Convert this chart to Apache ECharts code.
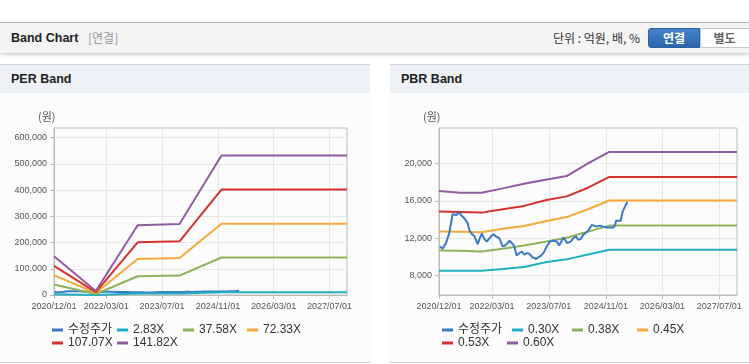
<!DOCTYPE html>
<html><head><meta charset="utf-8">
<script src="https://cdn.jsdelivr.net/npm/echarts@6/dist/echarts.min.js"></script>
<style>
html,body{margin:0;padding:0;width:749px;height:364px;overflow:hidden;background:#fff;font-family:"Liberation Sans","Noto Sans CJK KR",sans-serif;}
.abs{position:absolute;}
#hline{left:0;top:22px;width:749px;height:1px;background:#b8b8b8;}
#hdr{left:0;top:23px;width:749px;height:30px;background:#f4f4f4;box-shadow:0 2px 3px rgba(0,0,0,0.18);}
#ttl{left:11px;top:23px;line-height:30px;font-size:12.5px;font-weight:bold;color:#222;}
#ttl2{left:88px;top:23px;line-height:30px;font-size:12px;color:#999;font-family:"Noto Sans CJK KR",sans-serif;}
#unit{left:553px;top:23px;line-height:30px;font-size:12px;color:#333;font-family:"Noto Sans CJK KR",sans-serif;}
#b1{left:648px;top:28px;width:50px;height:18px;line-height:18px;text-align:center;color:#fff;font-weight:bold;font-size:12px;background:linear-gradient(#4283c9,#2b66ac);border:1px solid #2a5f9e;border-radius:3px 0 0 3px;font-family:"Noto Sans CJK KR",sans-serif;}
#b2{left:700px;top:28px;width:52px;height:18px;line-height:18px;text-align:center;color:#666;font-weight:bold;font-size:12px;background:#fff;border:1px solid #c8c8c8;font-family:"Noto Sans CJK KR",sans-serif;text-indent:-5px;}
.panel{top:64px;height:297px;border-top:1px solid #d2d2d2;border-bottom:1px solid #d2d2d2;background:#fcfcfc;}
.ph{left:0;top:0;right:0;height:28px;background:#eef2f7;}
.pt{left:11px;top:0;line-height:28px;font-size:12.5px;font-weight:bold;color:#222;}
#chart{left:0;top:0;width:749px;height:364px;}
</style></head>
<body>
<div id="hline" class="abs"></div>
<div id="hdr" class="abs"></div>
<div id="ttl" class="abs">Band Chart</div>
<div id="ttl2" class="abs">[연결]</div>
<div id="unit" class="abs">단위 : 억원, 배, %</div>
<div id="b1" class="abs">연결</div>
<div id="b2" class="abs">별도</div>
<div class="abs panel" style="left:0;width:370px;"><div class="abs ph"></div><div class="abs pt">PER Band</div></div>
<div class="abs panel" style="left:390px;width:359px;"><div class="abs ph"></div><div class="abs pt">PBR Band</div></div>
<div id="chart" class="abs"></div>
<script>
// ---- data ----
const xMin = '2020/12/01';
const xMax = '2027/12/01';
const xTickLabels = ['2020/12/01','2022/03/01','2023/07/01','2024/11/01','2026/03/01','2027/07/01'];
const perYTicks = [0,100000,200000,300000,400000,500000,600000];
const pbrYTicks = [8000,12000,16000,20000];

const perNames = ['2.83X','37.58X','72.33X','107.07X','141.82X'];
const perDates = ['2020/12/01','2021/12/01','2022/12/01','2023/12/01','2024/12/01','2027/12/01'];
const per283  = [3000, 300, 5400, 5600, 10700, 10700];
const per3758 = [40000, 3900, 71500, 74000, 143000, 143000];
const per7233 = [76000, 7500, 137000, 141000, 272000, 272000];
const per10707 = [111000, 11000, 201000, 205000, 402000, 402000];
const per14182 = [148000, 15000, 266000, 271000, 532000, 532000];

const pbrNames = ['0.30X','0.38X','0.45X','0.53X','0.60X'];
const pbrDates = ['2020/12/01','2021/06/01','2021/12/01','2022/06/01','2022/12/01','2023/06/01','2023/12/01','2024/06/01','2024/12/01','2027/12/01'];
const pbr030 = [8500, 8500, 8500, 8680, 8900, 9400, 9720, 10240, 10740, 10740];
const pbr038 = [10670, 10640, 10560, 10850, 11200, 11600, 12030, 12690, 13340, 13340];
const pbr045 = [12700, 12680, 12630, 12990, 13300, 13800, 14250, 15090, 16030, 16030];
const pbr053 = [14840, 14800, 14730, 15090, 15450, 16050, 16470, 17400, 18550, 18550];
const pbr060 = [17050, 16870, 16870, 17330, 17830, 18250, 18650, 20000, 21240, 21240];

const priceName = '수정주가';
const priceDates = ['2020/12/09','2021/01/01','2021/01/30','2021/02/27','2021/03/28','2021/04/11','2021/05/02','2021/05/19','2021/06/08','2021/07/06','2021/08/04','2021/08/18','2021/09/10','2021/09/30','2021/10/29','2021/11/18','2021/12/05','2021/12/24','2022/01/14','2022/01/31','2022/02/20','2022/03/12','2022/04/04','2022/05/02','2022/05/31','2022/06/29','2022/07/27','2022/08/19','2022/09/08','2022/09/28','2022/10/21','2022/11/13','2022/12/03','2022/12/23','2023/01/14','2023/02/13','2023/03/13','2023/04/16','2023/05/15','2023/06/13','2023/07/11','2023/08/09','2023/09/06','2023/09/28','2023/10/19','2023/11/02','2023/11/17','2023/12/06','2024/01/05','2024/01/27','2024/02/19','2024/03/10','2024/03/30','2024/04/22','2024/05/21','2024/06/12','2024/07/03','2024/07/22','2024/08/14','2024/09/12','2024/10/10','2024/11/08','2024/12/07','2025/01/04','2025/01/21','2025/01/27','2025/02/16','2025/03/08','2025/03/25','2025/04/14','2025/05/04'];
const priceValues = [11100,10850,11460,12530,14560,14770,14480,14770,14480,14130,13600,12880,12420,12240,11350,12060,12490,11920,11630,11630,12170,12420,12170,11990,11100,11280,11710,11460,11100,10140,10390,10560,10210,10390,10320,9920,9780,10030,10390,11100,11630,11710,11630,11200,11710,12060,11810,11460,11630,11990,12170,11810,11920,12350,12630,12990,13410,13340,13230,13340,13230,13130,13130,13130,13410,13870,13870,13840,14830,15370,15900];

// ---- styling ----
const bandColors = ['#20afc2','#8db35a','#f5a93b','#d2322c','#925aa0'];
const priceColor = '#3b78c6';
const axisColor = '#bcbcbc';
const gridLineColor = '#e7e7e7';
const labelColor = '#555';
const FONT = '"Liberation Sans", Arial, sans-serif';

function ts(s){ const p = s.split('/'); return new Date(+p[0], +p[1]-1, +p[2]).getTime(); }
function fmtDate(v){ const d = new Date(v); const p = n => (n<10?'0':'')+n; return d.getFullYear()+'/'+p(d.getMonth()+1)+'/'+p(d.getDate()); }
function fmtNum(v){ return Math.round(v).toString().replace(/\B(?=(\d{3})+(?!\d))/g, ','); }

function lineSeries(name, dates, vals, color, idx, z){
  return { type:'line', name, xAxisIndex: idx, yAxisIndex: idx,
    data: dates.map((d,i)=>[ts(d), vals[i]]),
    symbol:'none', showSymbol:false, lineStyle:{width:2, color}, itemStyle:{color},
    z: z || 2, animation:false, silent:true };
}
function xAxis(idx){
  const vals = xTickLabels.map(ts);
  return { type:'value', gridIndex: idx, min: ts(xMin), max: ts(xMax), scale:true,
    axisLine:{show:true, onZero:false, lineStyle:{color:axisColor}},
    axisTick:{show:true, customValues: vals, length:4, lineStyle:{color:axisColor}},
    axisLabel:{customValues: vals, formatter: fmtDate, fontSize:9, color:labelColor, fontFamily:FONT, margin:7, hideOverlap:false, showMinLabel:true, showMaxLabel:true},
    splitLine:{show:true, lineStyle:{color:gridLineColor}} };
}
function yAxis(idx, min, max, ticks){
  return { type:'value', gridIndex: idx, min, max,
    axisLine:{show:true, onZero:false, lineStyle:{color:axisColor}},
    axisTick:{show:true, customValues: ticks, length:4, lineStyle:{color:axisColor}},
    axisLabel:{customValues: ticks, formatter: fmtNum, fontSize:9, color:labelColor, fontFamily:FONT, margin:7},
    splitLine:{show:true, lineStyle:{color:gridLineColor}} };
}
function legendItem(name, left, top){
  return { data:[name], left, top, padding:0, icon:'rect', itemWidth:11, itemHeight:3, itemGap:0,
    selectedMode:false, textStyle:{fontSize:12, color:'#333', fontFamily:'"Liberation Sans","Noto Sans CJK KR",sans-serif'} };
}

const perSets = [per283, per3758, per7233, per10707, per14182];
const pbrSets = [pbr030, pbr038, pbr045, pbr053, pbr060];
const series = [];
perSets.forEach((s,i)=>series.push(lineSeries(perNames[i], perDates, s, bandColors[i], 0)));
series.push(lineSeries(priceName, priceDates, priceValues, priceColor, 0, 1));
pbrSets.forEach((s,i)=>series.push(lineSeries(pbrNames[i], pbrDates, s, bandColors[i], 1)));
series.push(lineSeries(priceName, priceDates, priceValues, priceColor, 1, 3));

const legends = [
  legendItem(priceName, 52, 324), legendItem(perNames[0], 117, 324), legendItem(perNames[1], 183, 324), legendItem(perNames[2], 247, 324),
  legendItem(perNames[3], 52, 337), legendItem(perNames[4], 117, 337),
  legendItem(priceName, 442, 324), legendItem(pbrNames[0], 512, 324), legendItem(pbrNames[1], 572, 324), legendItem(pbrNames[2], 637, 324),
  legendItem(pbrNames[3], 442, 337), legendItem(pbrNames[4], 507, 337)
];

const chart = echarts.init(document.getElementById('chart'), null, {width:749, height:364, renderer:'canvas'});
chart.setOption({
  animation:false,
  backgroundColor:'transparent',
  grid:[
    {left:54, top:128, width:293, height:167, show:true, borderColor:axisColor, borderWidth:1, backgroundColor:'transparent'},
    {left:439, top:128, width:298, height:167, show:true, borderColor:axisColor, borderWidth:1, backgroundColor:'transparent'}
  ],
  xAxis:[xAxis(0), xAxis(1)],
  yAxis:[yAxis(0, 0, 637000, perYTicks), yAxis(1, 5900, 23800, pbrYTicks)],
  legend: legends,
  graphic:[
    {type:'text', left:38, top:111, style:{text:'(원)', fontSize:11, fill:'#555', fontFamily:'"Noto Sans CJK KR",sans-serif'}},
    {type:'text', left:423, top:111, style:{text:'(원)', fontSize:11, fill:'#555', fontFamily:'"Noto Sans CJK KR",sans-serif'}}
  ],
  series
});
</script>
</body></html>
